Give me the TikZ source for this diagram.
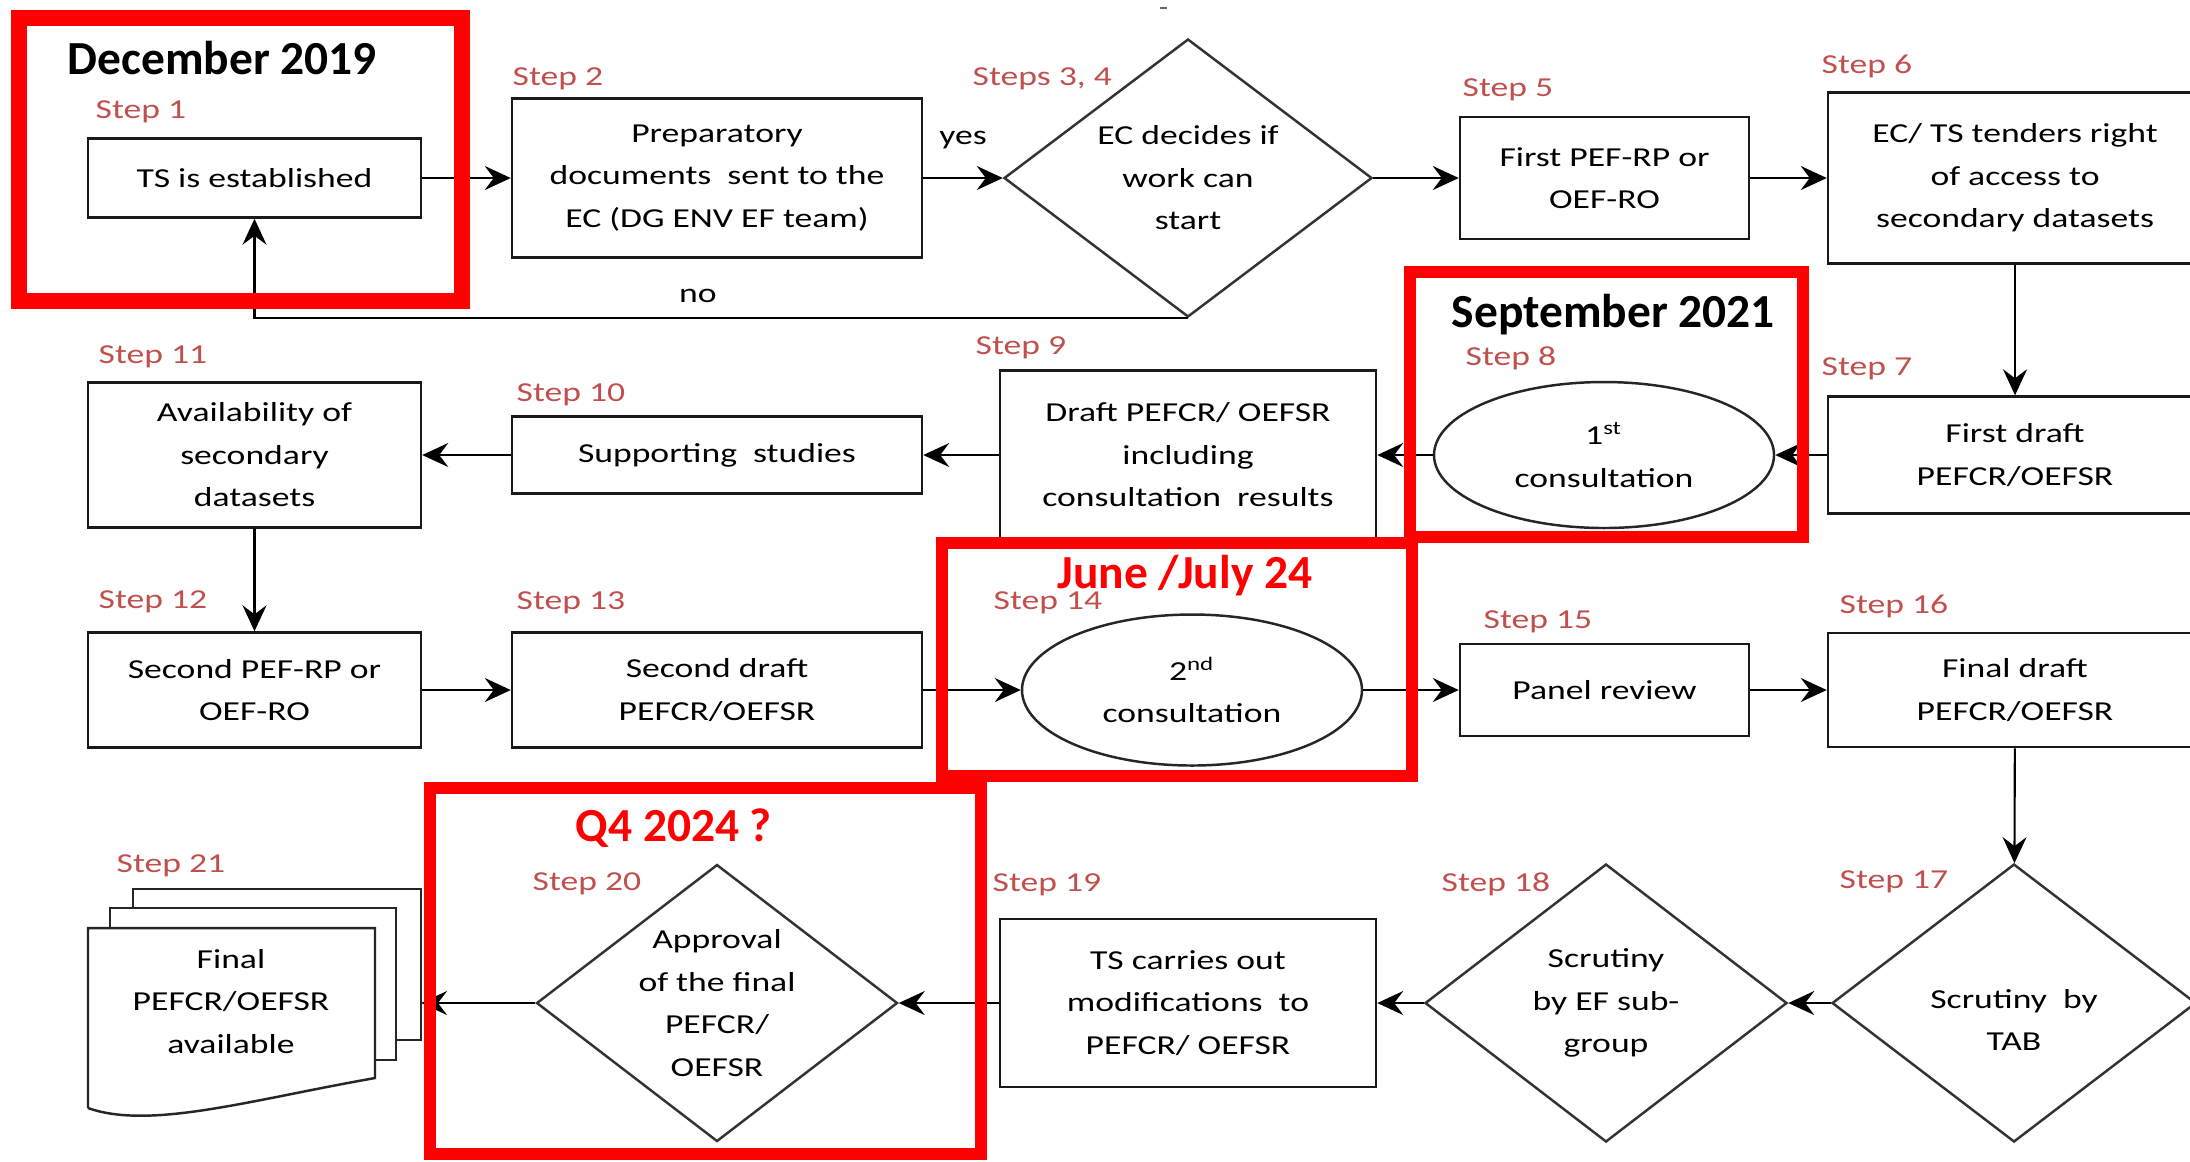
\documentclass[tikz,border=0pt]{standalone}
\usepackage{fontspec}
\setmainfont{Carlito}[FakeStretch=1.3]
\newfontfamily\datefont{Carlito}
\usetikzlibrary{shapes.geometric,arrows.meta,positioning}
\definecolor{steprose}{RGB}{192,80,77}
\tikzstyle{arrow} = [line width=0.6pt,-{Stealth[length=2.6mm,width=2.4mm,inset=0.9mm]}]
\tikzstyle{box} = [draw=black!90,line width=0.7pt,align=center,inner sep=0pt]
\tikzstyle{dia} = [draw=black!80,diamond,line width=0.7pt,inner sep=0pt]
\tikzstyle{oval} = [draw=black!85,ellipse,line width=0.7pt,inner sep=0pt,align=center]
\tikzstyle{txtlbl} = [align=center,inner sep=0pt]
\tikzstyle{steplbl} = [text=steprose,anchor=base west,inner sep=0pt]
\tikzstyle{datelbl} = [font=\datefont\bfseries\fontsize{13.5}{16}\selectfont,anchor=base west,inner sep=0pt]
\tikzstyle{docline} = [draw=black!85,line width=0.7pt,fill=white]
\tikzstyle{redframe} = [draw=red,line width=1.2mm]

\begin{document}
\begin{tikzpicture}[x=0.1mm,y=-0.1mm,font=\fontsize{7.8}{12.1}\selectfont]
\clip (0,0) rectangle (2190,1161);
\fill[white] (0,0) rectangle (2190,1161);
\draw[black!60,line width=0.2mm] (1160,8) -- (1167,8);

\node[box,minimum width=33.3mm,minimum height=7.9mm] (ts) at (254.5,178) {TS is established};
\node[box,minimum width=41mm,minimum height=15.9mm] (prep) at (717,178) {Preparatory\\documents\ \ sent to the\\EC (DG ENV EF team)};
\node[dia,minimum width=36.8mm,minimum height=27.8mm,label={[txtlbl]center:EC decides if\\work can\\start}] (dec) at (1188,178) {};
\node[box,minimum width=28.9mm,minimum height=12.2mm] (pef1) at (1604.5,178) {First PEF-RP or\\OEF-RO};
\node[box,minimum width=37.4mm,minimum height=17.1mm] (tend) at (2015,178) {EC/ TS tenders right\\of access to\\secondary datasets};

\node[box,minimum width=37.4mm,minimum height=11.7mm] (draft1) at (2015,455) {First draft\\PEFCR/OEFSR};
\node[oval,minimum width=34mm,minimum height=14.6mm] (cons1) at (1604,455) {1\textsuperscript{st}\\consultation};
\node[box,minimum width=37.6mm,minimum height=16.9mm] (draft9) at (1188,455) {Draft PEFCR/ OEFSR\\including\\consultation\ \ results};
\node[box,minimum width=41mm,minimum height=7.7mm] (supp) at (717,455) {Supporting\ \ studies};
\node[box,minimum width=33.3mm,minimum height=14.5mm] (avail) at (254.5,455) {Availability of\\secondary\\datasets};

\node[box,minimum width=33.3mm,minimum height=11.5mm] (pef2) at (254.5,690) {Second PEF-RP or\\OEF-RO};
\node[box,minimum width=41mm,minimum height=11.5mm] (draft2) at (717,690) {Second draft\\PEFCR/OEFSR};
\node[oval,minimum width=34mm,minimum height=15.1mm] (cons2) at (1192,690) {2\textsuperscript{nd}\\consultation};
\node[box,minimum width=28.9mm,minimum height=9.2mm] (panel) at (1604.5,690) {Panel review};
\node[box,minimum width=37.4mm,minimum height=11.4mm] (final) at (2015,690) {Final draft\\PEFCR/OEFSR};

\node[dia,minimum width=36.4mm,minimum height=27.8mm,label={[txtlbl,yshift=-1.7mm]center:Scrutiny\ \ by\\TAB}] (tab) at (2014,1003) {};
\node[dia,minimum width=36.2mm,minimum height=27.8mm,label={[txtlbl]center:Scrutiny\\by EF sub-\\group}] (subg) at (1606,1003) {};
\node[box,minimum width=37.6mm,minimum height=16.8mm] (mod) at (1188,1003) {TS carries out\\modifications\ \ to\\PEFCR/ OEFSR};
\node[dia,minimum width=36.1mm,minimum height=27.7mm,label={[txtlbl]center:Approval\\of the final\\PEFCR/\\OEFSR}] (appr) at (717,1003) {};

\draw[docline] (133,908) -- (133,889) -- (421,889) -- (421,1040) -- (396,1040);
\draw[docline] (110,928) -- (110,908) -- (396,908) -- (396,1060) -- (375,1060);
\draw[docline] (88,1108) -- (88,928) -- (375,928) -- (375,1078) .. controls (250,1100) and (150,1130) .. (88,1108);
\node[txtlbl] (docs) at (231,1001.5) {Final\\PEFCR/OEFSR\\available};
\coordinate (docsedge) at (421,1003);

\draw[arrow] (ts) -- (prep);
\draw[arrow] (prep) -- node[above=1.6mm] {yes} (dec);
\draw[arrow] (dec) -- (pef1);
\draw[arrow] (pef1) -- (tend);
\draw[arrow] (dec.south) -| node[pos=0.2625,above=0.3mm] {no} (ts.south);
\draw[arrow] (tend) -- (draft1);
\draw[arrow] (draft1) -- (cons1);
\draw[arrow] (cons1) -- (draft9);
\draw[arrow] (draft9) -- (supp);
\draw[arrow] (supp) -- (avail);
\draw[arrow] (avail) -- (pef2);
\draw[arrow] (pef2) -- (draft2);
\draw[arrow] (draft2) -- (cons2);
\draw[arrow] (cons2) -- (panel);
\draw[arrow] (panel) -- (final);
\draw[arrow] (final) -- (tab);
\draw[arrow] (tab) -- (subg);
\draw[arrow] (subg) -- (mod);
\draw[arrow] (mod) -- (appr);
\draw[arrow] (appr) -- (docsedge);

\node[steplbl] (s1) at (95,118) {Step 1};
\node[steplbl] (s2) at (512,85) {Step 2};
\node[steplbl] (s34) at (972,85) {Steps 3, 4};
\node[steplbl] (s5) at (1462,96) {Step 5};
\node[steplbl] (s6) at (1821,73) {Step 6};
\node[steplbl] (s7) at (1821,375) {Step 7};
\node[steplbl] (s8) at (1465,365) {Step 8};
\node[steplbl] (s9) at (975,354) {Step 9};
\node[steplbl] (s10) at (516,401) {Step 10};
\node[steplbl] (s11) at (98,363) {Step 11};
\node[steplbl] (s12) at (98,608) {Step 12};
\node[steplbl] (s13) at (516,609) {Step 13};
\node[steplbl] (s14) at (993,609) {Step 14};
\node[steplbl] (s15) at (1483,628) {Step 15};
\node[steplbl] (s16) at (1839,613) {Step 16};
\node[steplbl] (s17) at (1839,888) {Step 17};
\node[steplbl] (s18) at (1441,891) {Step 18};
\node[steplbl] (s19) at (992,891) {Step 19};
\node[steplbl] (s20) at (532,890) {Step 20};
\node[steplbl] (s21) at (116,872) {Step 21};

\draw[redframe,line width=1.6mm] (18.5,18) rectangle (462,301);
\draw[redframe] (1410,272) rectangle (1803,537);
\draw[redframe] (942,543) rectangle (1412,776);
\draw[redframe] (430,788) rectangle (981,1154);

\node[datelbl] (dec19) at (67,74) {December 2019};
\node[datelbl] (sep21) at (1451,327) {September 2021};
\node[datelbl,text=red] (jun24) at (1057,588) {June /July 24};
\node[datelbl,text=red] (q424) at (575,841) {Q4 2024 ?};
\end{tikzpicture}
\end{document}
